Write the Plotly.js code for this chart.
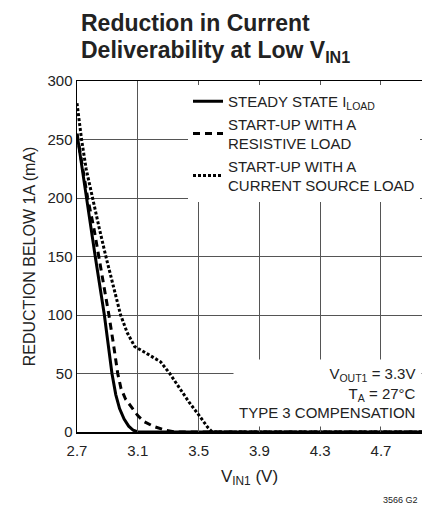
<!DOCTYPE html>
<html><head><meta charset="utf-8">
<script src="https://cdn.plot.ly/plotly-3.0.1.min.js"></script>
<style>html,body{margin:0;padding:0;background:#fff;overflow:hidden;}</style>
</head><body>
<div id="chart" style="width:422px;height:517px;"></div>
<script>
// Data
const steadyV  = [2.70,2.73,2.76,2.79,2.82,2.85,2.88,2.905,2.93,2.955,2.98,3.01,3.04,3.07,3.10,4.97];
const steadyMA = [255, 228, 200, 175, 150, 125, 100, 75,   50,  32,   20,  11,  5,   1.5, 0,   0];
const resistV  = [2.70,2.74,2.77,2.81,2.845,2.88,2.91,2.94,2.968,2.99,3.02,3.06,3.10,3.14,3.20,3.28,3.35,4.97];
const resistMA = [255, 225, 200, 175, 150,  125, 100, 75,  50,   37,  28,  21,  14,  9,   5,   1.5, 0,   0];
const currV    = [2.70,2.73,2.76,2.80,2.845,2.89,2.94,2.987,3.03,3.08,3.16,3.25,3.31,3.38,3.44,3.51,3.56,3.59,4.97];
const currMA   = [281, 250, 225, 200, 175,  150, 125, 100,  85,  73,  67,  60,  50,  36,  25,  13,  4,   0,   0];
const seriesNames = ['STEADY STATE I<sub>LOAD</sub>', 'START-UP WITH A<br>RESISTIVE LOAD', 'START-UP WITH A<br>CURRENT SOURCE LOAD'];
const xTickVals = [2.7,3.1,3.5,3.9,4.3,4.7];
const yTickVals = [0,50,100,150,200,250,300];

const FONT = '"Liberation Sans", Arial, sans-serif';
const TXT = '#222';

const traces = [
  {x: steadyV, y: steadyMA, name: seriesNames[0], mode: 'lines', line: {color: '#000', width: 3}},
  {x: resistV, y: resistMA, name: seriesNames[1], mode: 'lines', line: {color: '#000', width: 3, dash: '7px,5px'}},
  {x: currV, y: currMA, name: seriesNames[2], mode: 'lines', line: {color: '#000', width: 3, dash: '3px,2px'}}
];

// paper-y helper from pixel row (plot area spans rows 81..432)
const py = r => (432 - r) / 351;

const layout = {
  width: 422, height: 517,
  margin: {l: 77, r: 0, t: 81, b: 85},
  paper_bgcolor: '#fff', plot_bgcolor: '#fff',
  font: {family: FONT, color: TXT, size: 15},
  showlegend: true,
  xaxis: {
    range: [2.7, 4.97], tickvals: xTickVals, ticktext: xTickVals.map(v => v.toFixed(1)),
    showgrid: true, gridcolor: '#555', gridwidth: 1, zeroline: false,
    showline: true, linecolor: '#000', linewidth: 1.5, mirror: 'ticks',
    ticks: 'inside', ticklen: 5, tickcolor: '#555', ticklabelstandoff: 4,
    tickfont: {family: FONT, size: 15, color: TXT},
    title: {text: 'V<sub>IN1</sub> (V)', font: {family: FONT, size: 17, color: TXT}, standoff: 12}
  },
  yaxis: {
    range: [0, 300], tickvals: yTickVals,
    showgrid: true, gridcolor: '#555', gridwidth: 1, zeroline: false,
    showline: true, linecolor: '#000', linewidth: 1.5, mirror: true,
    ticks: '', tickfont: {family: FONT, size: 15, color: TXT},
    title: {text: 'REDUCTION BELOW 1A (mA)', font: {family: FONT, size: 16, color: TXT}, standoff: 8}
  },
  legend: {
    x: (188-77)/345, xanchor: 'left', y: py(85), yanchor: 'top',
    bgcolor: '#fff', borderwidth: 0, tracegroupgap: 0,
    font: {family: FONT, size: 15, color: TXT}, itemwidth: 30
  },
  annotations: [
    {xref: 'paper', yref: 'paper', x: 0.005, y: py(23), xanchor: 'left', yanchor: 'middle',
     showarrow: false, text: '<b>Reduction in Current</b>', font: {family: FONT, size: 23, color: TXT}},
    {xref: 'paper', yref: 'paper', x: 0.005, y: py(51), xanchor: 'left', yanchor: 'middle',
     showarrow: false, text: '<b>Deliverability at Low V<sub>IN1</sub></b>', font: {family: FONT, size: 23, color: TXT}},
    {xref: 'paper', yref: 'paper', x: 1, y: py(427), xanchor: 'right', yanchor: 'bottom',
     align: 'right', showarrow: false, bgcolor: '#fff', borderpad: 5,
     text: 'V<sub>OUT1</sub> = 3.3V<br>T<sub>A</sub> = 27°C<br>TYPE 3 COMPENSATION',
     font: {family: FONT, size: 15, color: TXT}},
    {xref: 'paper', yref: 'paper', x: 0.995, y: py(500), xanchor: 'right', yanchor: 'middle',
     showarrow: false, text: '3566 G2', font: {family: FONT, size: 9, color: TXT}}
  ]
};

Plotly.newPlot('chart', traces, layout, {displayModeBar: false, staticPlot: true});
</script>
</body></html>
